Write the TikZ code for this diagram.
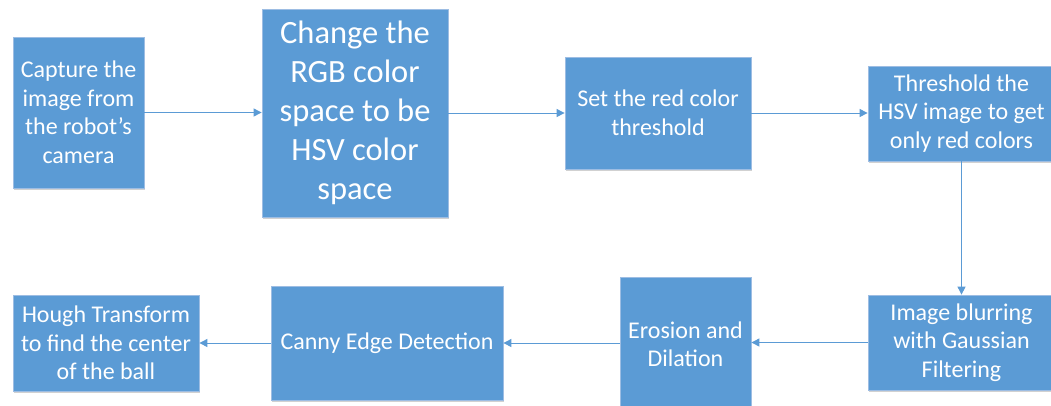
\documentclass[tikz,border=0pt]{standalone}
\usepackage{fontspec}
\setmainfont{Carlito}
\usetikzlibrary{arrows.meta,shadows}

\definecolor{boxblue}{HTML}{5B9BD5}
\definecolor{boxedge}{HTML}{9DBDE3}

\tikzset{
  procbox/.style={rectangle, fill=boxblue, draw=boxedge, line width=0.8pt,
    text=white, align=center, inner sep=0pt,
    font=\fontsize{24}{28.5}\selectfont,
    drop shadow={shadow xshift=1pt, shadow yshift=-2pt, opacity=0.18, fill=black}},
  bigbox/.style={procbox, font=\fontsize{32.5}{39}\selectfont},
  conn/.style={draw=boxblue, line width=1pt,
    -{Triangle[length=8pt,width=8pt]}}
}

\begin{document}
\begin{tikzpicture}[x=1pt,y=-1pt]
  \clip (0,0) rectangle (1051,405);
  \fill[white] (0,0) rectangle (1051,405);

  % top row
  \node[procbox, minimum width=131pt, minimum height=151pt] (capture) at (78.5,112.5)
    {Capture the\\image from\\the robot’s\\camera};
  \node[bigbox, minimum width=186pt, minimum height=208pt] (hsv) at (355,113)
    {Change the\\RGB color\\space to be\\HSV color\\space};
  \node[procbox, minimum width=186pt, minimum height=112pt] (setthr) at (658,113)
    {Set the red color\\threshold};
  \node[procbox, minimum width=187pt, minimum height=95pt] (thr) at (961.5,113.5)
    {Threshold the\\HSV image to get\\only red colors};

  % bottom row
  \node[procbox, minimum width=187pt, minimum height=95pt] (blur) at (961.5,342.5)
    {Image blurring\\with Gaussian\\Filtering};
  \node[procbox, minimum width=131pt, minimum height=134pt] (morph) at (685.5,344)
    {Erosion and\\Dilation};
  \node[procbox, minimum width=232pt, minimum height=114pt] (canny) at (387,343)
    {Canny Edge Detection};
  \node[procbox, minimum width=186pt, minimum height=96pt] (hough) at (106,343)
    {Hough Transform\\to find the center\\of the ball};

  % connectors
  \draw[conn] (capture.east) -- (capture.east -| hsv.west);
  \draw[conn] (hsv.east |- setthr.west) -- (setthr.west);
  \draw[conn] (setthr.east) -- (setthr.east -| thr.west);
  \draw[conn] (thr.south) -- (blur.north);
  \draw[conn] (blur.west) -- (blur.west -| morph.east);
  \draw[conn] (morph.west |- canny.east) -- (canny.east);
  \draw[conn] (canny.west) -- (hough.east);
\end{tikzpicture}
\end{document}
